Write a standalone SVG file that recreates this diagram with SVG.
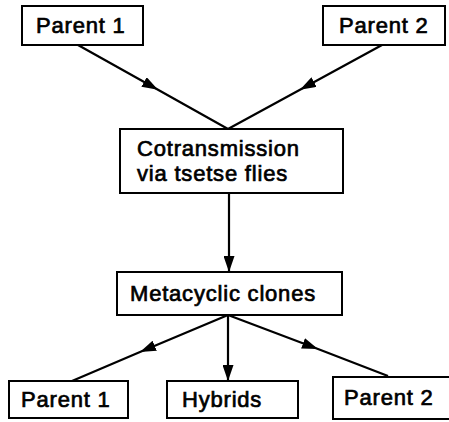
<svg xmlns="http://www.w3.org/2000/svg" width="449" height="422" viewBox="0 0 449 422">
  <style>
    .box { fill: #fff; stroke: #000; stroke-width: 2; }
    .lbl { font-family: "Liberation Sans", Arial, sans-serif; font-size: 22px; letter-spacing: 0.8px; fill: #000; stroke: #000; stroke-width: 0.7; }
    .edge { fill: none; stroke: #000; stroke-width: 2.2; }
  </style>
  <defs>
    <marker id="arrow" viewBox="0 0 16 11" refX="16" refY="5.5" markerWidth="16" markerHeight="11" markerUnits="userSpaceOnUse" orient="auto">
      <path d="M0,0 L16,5.5 L0,11 z" fill="#000"/>
    </marker>
  </defs>
  <rect width="449" height="422" fill="#fff"/>

  <g id="connectors">
    <path class="edge" d="M78,45 L158,89.8 L228,129" marker-mid="url(#arrow)"/>
    <path class="edge" d="M382,45 L300,89.7 L228,129" marker-mid="url(#arrow)"/>
    <path class="edge" d="M229,193 L229,272" marker-end="url(#arrow)"/>
    <path class="edge" d="M228,315 L140,352 L72,381" marker-mid="url(#arrow)"/>
    <path class="edge" d="M228,315 L228,381" marker-end="url(#arrow)"/>
    <path class="edge" d="M228,315 L318,349 L388,376" marker-mid="url(#arrow)"/>
  </g>

  <g id="parent1-top">
    <rect class="box" x="22" y="6" width="121" height="39"/>
    <text class="lbl" x="36" y="33">Parent 1</text>
  </g>
  <g id="parent2-top">
    <rect class="box" x="323" y="6" width="122" height="39"/>
    <text class="lbl" x="339" y="33">Parent 2</text>
  </g>
  <g id="cotransmission">
    <rect class="box" x="120" y="129" width="223" height="64"/>
    <text class="lbl" x="137" y="156">Cotransmission</text>
    <text class="lbl" x="137" y="181">via tsetse flies</text>
  </g>
  <g id="metacyclic">
    <rect class="box" x="117" y="272" width="225" height="43"/>
    <text class="lbl" x="130" y="301">Metacyclic clones</text>
  </g>
  <g id="parent1-bottom">
    <rect class="box" x="9" y="381" width="119" height="37"/>
    <text class="lbl" x="21" y="407">Parent 1</text>
  </g>
  <g id="hybrids">
    <rect class="box" x="167" y="381" width="131" height="37"/>
    <text class="lbl" x="182" y="407">Hybrids</text>
  </g>
  <g id="parent2-bottom">
    <rect class="box" x="333" y="377" width="120" height="42"/>
    <text class="lbl" x="344" y="405">Parent 2</text>
  </g>
</svg>
